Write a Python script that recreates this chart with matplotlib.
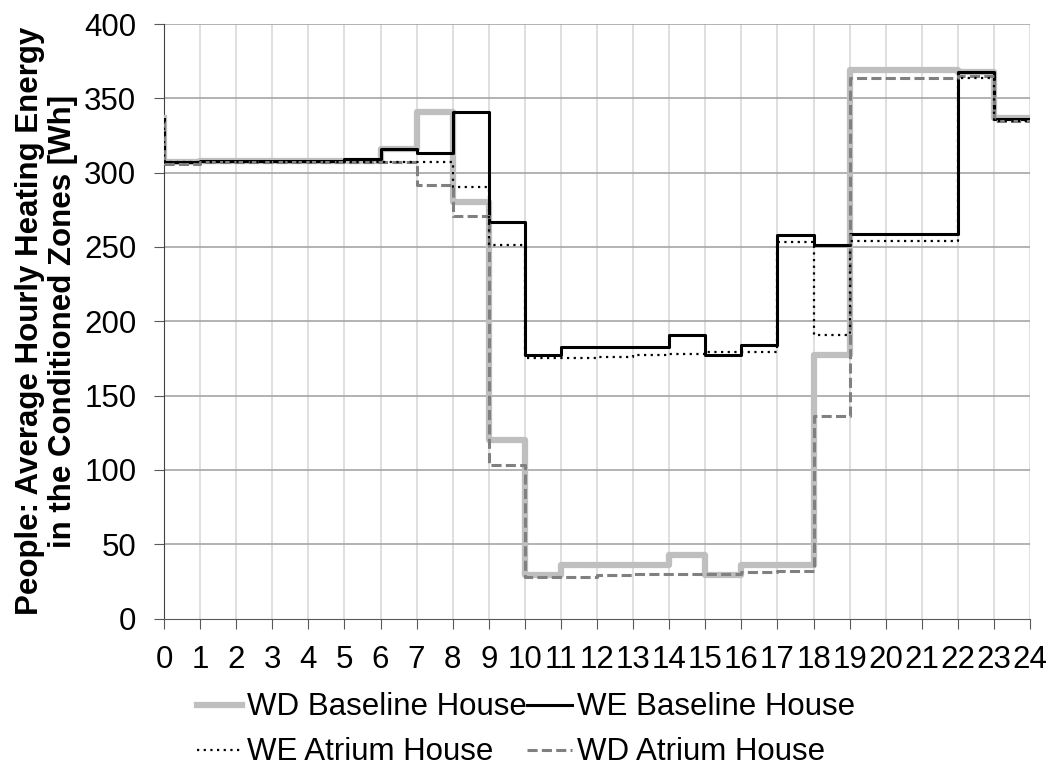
import numpy as np
import matplotlib.pyplot as plt

plt.rcParams['font.family'] = ['Liberation Sans', 'DejaVu Sans']

hours = np.arange(25)

# hourly mean heating energy from people, hour i -> i+1 [Wh]
wd_baseline = [307, 308, 308, 308, 308, 308, 316, 341, 280, 120, 29, 36,
               36, 36, 43, 29, 36, 36, 177, 369, 369, 369, 368, 337]
we_baseline = [307, 308, 308, 308, 308, 309, 316, 313, 341, 267, 177, 183,
               183, 183, 191, 177, 184, 258, 251, 259, 259, 259, 368, 336]
we_atrium = [307, 307, 307, 307, 307, 307, 307, 307, 290, 251, 175, 175,
             176, 177, 178, 179, 179, 253, 191, 254, 254, 254, 364, 335]
wd_atrium = [306, 307, 307, 307, 307, 307, 307, 292, 271, 103, 28, 28,
             29, 30, 30, 30, 31, 32, 136, 364, 364, 364, 365, 335]


def steps(vals):
    # start from the last hour so the day wraps round at midnight
    x = np.concatenate([[0], np.repeat(hours, 2)[1:-1]])
    y = np.concatenate([[vals[-1]], np.repeat(vals, 2)])
    return x, y


fig = plt.figure(figsize=(10.55, 7.67), dpi=100)
ax = fig.add_axes([0.1555, 0.1936, 0.8208, 0.7751])

x, y = steps(wd_baseline)
l1, = ax.plot(x, y, color='#BFBFBF', lw=4.5, label='WD Baseline House', zorder=3)
x, y = steps(we_baseline)
l2, = ax.plot(x, y, color='black', lw=2.2, label='WE Baseline House', zorder=4)
x, y = steps(we_atrium)
l3, = ax.plot(x, y, color='black', lw=1.6, ls=(0, (1, 2)), label='WE Atrium House', zorder=5)
x, y = steps(wd_atrium)
l4, = ax.plot(x, y, color='#808080', lw=2.2, ls=(0, (3.3, 1.4)), label='WD Atrium House', zorder=4)

ax.set_xlim(0, 24)
ax.set_ylim(0, 400)
ax.set_xticks(hours)
ax.set_yticks(np.arange(0, 401, 50))
ax.tick_params(axis='both', labelsize=22.5, direction='out', length=7, color='#595959')
ax.tick_params(axis='x', pad=12)
ax.tick_params(axis='y', pad=13)

for h in hours[1:]:
    ax.axvline(h, color='#D9D9D9', lw=1.2, zorder=1)
for v in np.arange(50, 401, 50):
    ax.axhline(v, color='#A6A6A6', lw=1.2, zorder=1)

for s in ['top', 'right']:
    ax.spines[s].set_visible(False)
ax.spines['left'].set_color('#404040')
ax.spines['bottom'].set_color('#595959')

ax.set_ylabel('People: Average Hourly Heating Energy\nin the Conditioned Zones [Wh]',
              fontsize=22.5, fontweight='bold', labelpad=4, linespacing=1.15)

fig.legend([l1, l3, l2, l4],
           [h.get_label() for h in [l1, l3, l2, l4]],
           ncol=2, loc='upper left', bbox_to_anchor=(0.1867, 0.0972),
           frameon=False, fontsize=22.5, handlelength=1.44, handletextpad=0.16,
           columnspacing=0.0, labelspacing=0.48, borderpad=0, borderaxespad=0)

fig.savefig('out.png', dpi=100)
